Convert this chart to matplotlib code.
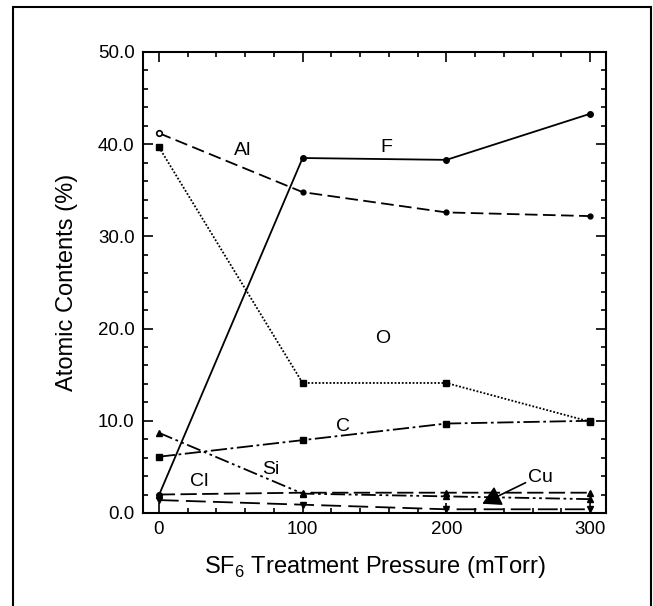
"""
Atomic contents vs SF6 treatment pressure (XPS surface composition).
Saves the figure to out.png.
"""
import matplotlib

matplotlib.use("Agg")
import matplotlib.pyplot as plt
from matplotlib.patches import Rectangle
from matplotlib.ticker import MultipleLocator

plt.rcParams["font.family"] = ["Liberation Sans", "DejaVu Sans"]
plt.rcParams["mathtext.fontset"] = "custom"
plt.rcParams["mathtext.rm"] = "Liberation Sans"

# ---------- data ----------
pressure = [0, 100, 200, 300]
F = [1.9, 38.5, 38.3, 43.3]
Al = [41.2, 34.8, 32.6, 32.2]
O = [39.7, 14.1, 14.1, 9.9]
C = [6.1, 7.9, 9.7, 10.0]
Si = [8.7, 2.1, 1.8, 1.5]
Cl = [2.0, 2.2, 2.2, 2.2]
Cu = [1.4, 0.9, 0.4, 0.4]

labels = {"Al": (58, 39.3), "F": (158, 39.6), "O": (156, 18.9),
          "C": (128, 9.4), "Si": (78, 4.7), "Cl": (28, 3.4)}
cu_text = (257, 3.8)
cu_tip = (225, 1.0)


def main() -> None:
    fig = plt.figure(figsize=(6.53, 6.06), dpi=100)
    ax = fig.add_axes([0.219, 0.1535, 0.709, 0.7607])

    # outer frame around the whole figure
    fig.patches.append(Rectangle((13 / 653, -0.05), 638 / 653, 1.05 - 7 / 606,
                                 transform=fig.transFigure, fill=False,
                                 edgecolor="black", linewidth=1.5))

    k = dict(color="black", linewidth=1.3)
    ax.plot(pressure, F, linestyle="-", marker="o", markersize=4, **k)
    ax.plot(pressure, Al, linestyle=(0, (7, 3)), marker="o", markersize=3.5,
            markevery=[1, 2, 3], **k)
    ax.plot(pressure[:1], Al[:1], linestyle="none", marker="o", markersize=4,
            markerfacecolor="white", markeredgecolor="black", markeredgewidth=1.2)
    ax.plot(pressure, O, linestyle=(0, (1, 1)), marker="s", markersize=5, **k)
    ax.plot(pressure, C, linestyle=(0, (9, 2, 1.5, 2)), marker="s", markersize=5, **k)
    ax.plot(pressure, Si, linestyle=(0, (8, 2, 1.5, 2, 1.5, 2)), marker="^",
            markersize=5, **k)
    ax.plot(pressure, Cl, linestyle=(0, (9, 3)), marker="^", markersize=4.5, **k)
    ax.plot(pressure, Cu, linestyle=(0, (11, 4)), marker="v", markersize=4.5, **k)

    for name, (x, y) in labels.items():
        ax.text(x, y, name, fontsize=14, ha="center", va="center")
    ax.annotate("Cu", xy=cu_tip, xytext=cu_text, fontsize=14, ha="left", va="center",
                arrowprops=dict(arrowstyle="-|>,head_length=0.8,head_width=0.45",
                                color="black", linewidth=1.2,
                                shrinkA=0, shrinkB=0, relpos=(0, 0.3)))

    ax.set_xlim(-11, 311)
    ax.set_ylim(0, 50)
    ax.xaxis.set_major_locator(MultipleLocator(100))
    ax.xaxis.set_minor_locator(MultipleLocator(20))
    ax.yaxis.set_major_locator(MultipleLocator(10))
    ax.yaxis.set_minor_locator(MultipleLocator(2))
    ax.yaxis.set_major_formatter(lambda v, _: f"{v:.1f}")
    ax.tick_params(which="both", direction="in", top=True, right=True,
                   width=1.2, labelsize=13.5, pad=6)
    ax.tick_params(which="major", length=7.5)
    ax.tick_params(which="minor", length=3.5)
    for s in ax.spines.values():
        s.set_linewidth(1.5)

    ax.set_xlabel("SF$_6$ Treatment Pressure (mTorr)", fontsize=17, labelpad=11)
    ax.set_ylabel("Atomic Contents (%)", fontsize=17, labelpad=14)

    fig.savefig("out.png", dpi=100)


if __name__ == "__main__":
    main()
